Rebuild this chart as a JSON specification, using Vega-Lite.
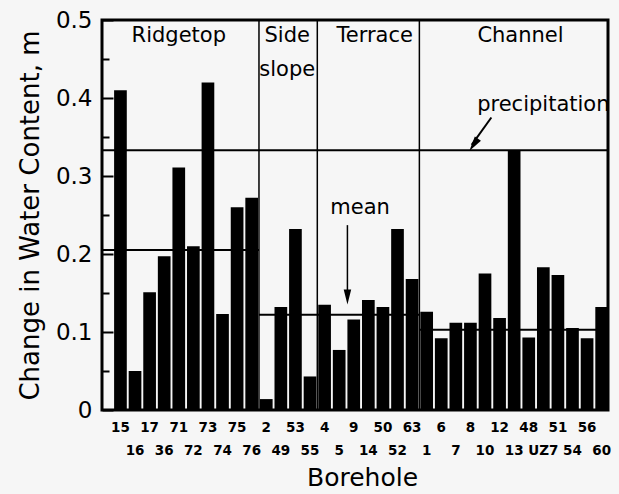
{
  "$schema": "https://vega.github.io/schema/vega-lite/v6.json",
  "width": 506,
  "height": 390,
  "autosize": {"type": "none"},
  "padding": {"left": 102, "top": 20, "right": 11, "bottom": 84},
  "background": "#f6f6f6",
  "config": {
    "view": {"stroke": "#000", "strokeWidth": 3},
    "font": "DejaVu Sans",
    "axis": {"domain": false, "labelColor": "#000", "titleColor": "#000", "tickColor": "#000"}
  },
  "resolve": {"axis": {"y": "independent"}},
  "datasets": {
    "bars": [
      {"borehole": "15", "setting": "Ridgetop", "change": 0.41},
      {"borehole": "16", "setting": "Ridgetop", "change": 0.05},
      {"borehole": "17", "setting": "Ridgetop", "change": 0.151},
      {"borehole": "36", "setting": "Ridgetop", "change": 0.197},
      {"borehole": "71", "setting": "Ridgetop", "change": 0.311},
      {"borehole": "72", "setting": "Ridgetop", "change": 0.21},
      {"borehole": "73", "setting": "Ridgetop", "change": 0.42},
      {"borehole": "74", "setting": "Ridgetop", "change": 0.123},
      {"borehole": "75", "setting": "Ridgetop", "change": 0.26},
      {"borehole": "76", "setting": "Ridgetop", "change": 0.272},
      {"borehole": "2", "setting": "Side slope", "change": 0.014},
      {"borehole": "49", "setting": "Side slope", "change": 0.132},
      {"borehole": "53", "setting": "Side slope", "change": 0.232},
      {"borehole": "55", "setting": "Side slope", "change": 0.043},
      {"borehole": "4", "setting": "Terrace", "change": 0.135},
      {"borehole": "5", "setting": "Terrace", "change": 0.077},
      {"borehole": "9", "setting": "Terrace", "change": 0.116},
      {"borehole": "14", "setting": "Terrace", "change": 0.141},
      {"borehole": "50", "setting": "Terrace", "change": 0.132},
      {"borehole": "52", "setting": "Terrace", "change": 0.232},
      {"borehole": "63", "setting": "Terrace", "change": 0.168},
      {"borehole": "1", "setting": "Channel", "change": 0.126},
      {"borehole": "6", "setting": "Channel", "change": 0.092},
      {"borehole": "7", "setting": "Channel", "change": 0.112},
      {"borehole": "8", "setting": "Channel", "change": 0.112},
      {"borehole": "10", "setting": "Channel", "change": 0.175},
      {"borehole": "12", "setting": "Channel", "change": 0.118},
      {"borehole": "13", "setting": "Channel", "change": 0.333},
      {"borehole": "48", "setting": "Channel", "change": 0.093},
      {"borehole": "UZ7", "setting": "Channel", "change": 0.183},
      {"borehole": "51", "setting": "Channel", "change": 0.173},
      {"borehole": "54", "setting": "Channel", "change": 0.105},
      {"borehole": "56", "setting": "Channel", "change": 0.092},
      {"borehole": "60", "setting": "Channel", "change": 0.132}
    ],
    "precip": [{"value": 0.333}],
    "means": [
      {"group": "Ridgetop", "borehole": "15", "to": "2", "value": 0.205},
      {"group": "Side slope and Terrace", "borehole": "2", "to": "1", "value": 0.122},
      {"group": "Channel", "borehole": "1", "to": "60", "value": 0.103}
    ],
    "dividers": [{"borehole": "2"}, {"borehole": "4"}, {"borehole": "1"}],
    "meanArrow": [{"borehole": "9", "value": 0.237, "value2": 0.15, "head": 0.145}],
    "precipArrow": [{"borehole": "8", "to": "10", "value": 0.34, "value2": 0.375, "head": 0.34}],
    "labelsCenter": [
      {"borehole": "71", "value": 0.479, "text": "Ridgetop"},
      {"borehole": "UZ7", "value": 0.391, "text": "precipitation"}
    ],
    "labelsEdge": [
      {"borehole": "49", "value": 0.479, "text": "Side"},
      {"borehole": "49", "value": 0.436, "text": "slope"},
      {"borehole": "14", "value": 0.479, "text": "Terrace"},
      {"borehole": "13", "value": 0.479, "text": "Channel"},
      {"borehole": "9", "value": 0.259, "text": "mean"}
    ]
  },
  "layer": [
    {
      "data": {"name": "bars"},
      "mark": {"type": "bar", "color": "#000"},
      "encoding": {
        "x": {
          "field": "borehole",
          "type": "nominal",
          "sort": null,
          "scale": {
            "type": "band",
            "domain": ["15","16","17","36","71","72","73","74","75","76","2","49","53","55","4","5","9","14","50","52","63","1","6","7","8","10","12","13","48","UZ7","51","54","56","60"],
            "paddingInner": 0.13,
            "paddingOuter": 0.415,
            "align": 1
          },
          "axis": {
            "title": "Borehole",
            "grid": false,
            "labelAngle": 0,
            "labelOverlap": false,
            "ticks": false,
            "labelFontWeight": "bold",
            "labelFontSize": 13.5,
            "labelPadding": 10,
            "labelLineHeight": 23.5,
            "labelBaseline": "top",
            "labelExpr": "indexof(['16','36','72','74','76','49','55','5','14','52','1','7','10','13','UZ7','54','60'], datum.label) >= 0 ? ['', datum.label] : datum.label",
            "titleFontSize": 25,
            "titleFontWeight": "normal",
            "titlePadding": 8,
            "titleX": 260
          }
        },
        "y": {
          "field": "change",
          "type": "quantitative",
          "scale": {"domain": [0, 0.5], "nice": false},
          "axis": {
            "title": "Change in Water Content, m",
            "values": [0, 0.05, 0.1, 0.15, 0.2, 0.25, 0.3, 0.35, 0.4, 0.45, 0.5],
            "labelExpr": "round(datum.value*100) % 10 != 0 ? '' : (datum.value == 0 ? '0' : format(datum.value, '.1f'))",
            "ticks": false,
            "grid": true,
            "gridColor": "#000",
            "gridOpacity": 1,
            "gridWidth": 2,
            "gridDash": {"condition": {"test": "round(datum.value*100) % 10 == 0", "value": [11, 2000]}, "value": [7, 2000]},
            "labelFontSize": 23,
            "labelPadding": 10,
            "titleFontSize": 26,
            "titleFontWeight": "normal",
            "titlePadding": 12
          }
        }
      }
    },
    {
      "data": {"name": "precip"},
      "mark": {"type": "rule", "color": "#000", "strokeWidth": 2},
      "encoding": {"y": {"field": "value", "type": "quantitative", "axis": null}}
    },
    {
      "data": {"name": "means"},
      "transform": [{"filter": "datum.group == 'Ridgetop'"}],
      "mark": {"type": "rule", "color": "#000", "strokeWidth": 2},
      "encoding": {
        "x": {"field": "borehole", "type": "nominal", "bandPosition": -0.95},
        "x2": {"field": "to", "bandPosition": -0.075},
        "y": {"field": "value", "type": "quantitative", "axis": null}
      }
    },
    {
      "data": {"name": "means"},
      "transform": [{"filter": "datum.group == 'Side slope and Terrace'"}],
      "mark": {"type": "rule", "color": "#000", "strokeWidth": 2},
      "encoding": {
        "x": {"field": "borehole", "type": "nominal", "bandPosition": -0.075},
        "x2": {"field": "to", "bandPosition": -0.075},
        "y": {"field": "value", "type": "quantitative", "axis": null}
      }
    },
    {
      "data": {"name": "means"},
      "transform": [{"filter": "datum.group == 'Channel'"}],
      "mark": {"type": "rule", "color": "#000", "strokeWidth": 2},
      "encoding": {
        "x": {"field": "borehole", "type": "nominal", "bandPosition": -0.075},
        "x2": {"field": "to", "bandPosition": 1},
        "y": {"field": "value", "type": "quantitative", "axis": null}
      }
    },
    {
      "data": {"name": "dividers"},
      "mark": {"type": "rule", "color": "#000", "strokeWidth": 1.5},
      "encoding": {
        "x": {"field": "borehole", "type": "nominal", "bandPosition": -0.075}
      }
    },
    {
      "data": {"name": "meanArrow"},
      "mark": {"type": "rule", "color": "#000", "strokeWidth": 1.5},
      "encoding": {
        "x": {"field": "borehole", "type": "nominal", "bandPosition": 0},
        "y": {"field": "value", "type": "quantitative", "axis": null},
        "y2": {"field": "value2"}
      }
    },
    {
      "data": {"name": "meanArrow"},
      "mark": {"type": "point", "filled": true, "color": "#000", "opacity": 1, "size": 225, "shape": "M0,1L-0.5,-1L0.5,-1Z"},
      "encoding": {
        "x": {"field": "borehole", "type": "nominal", "bandPosition": 0},
        "y": {"field": "head", "type": "quantitative", "axis": null}
      }
    },
    {
      "data": {"name": "precipArrow"},
      "mark": {"type": "rule", "color": "#000", "strokeWidth": 2},
      "encoding": {
        "x": {"field": "borehole", "type": "nominal", "bandPosition": 0.6},
        "x2": {"field": "to", "bandPosition": 1},
        "y": {"field": "value", "type": "quantitative", "axis": null},
        "y2": {"field": "value2"}
      }
    },
    {
      "data": {"name": "precipArrow"},
      "mark": {"type": "point", "filled": true, "color": "#000", "opacity": 1, "size": 225, "angle": 35, "shape": "M0,1L-0.5,-1L0.5,-1Z"},
      "encoding": {
        "x": {"field": "borehole", "type": "nominal", "bandPosition": 0.75},
        "y": {"field": "head", "type": "quantitative", "axis": null}
      }
    },
    {
      "data": {"name": "labelsCenter"},
      "mark": {"type": "text", "fontSize": 21, "color": "#000", "baseline": "middle", "align": "center"},
      "encoding": {
        "x": {"field": "borehole", "type": "nominal"},
        "y": {"field": "value", "type": "quantitative", "axis": null},
        "text": {"field": "text"}
      }
    },
    {
      "data": {"name": "labelsEdge"},
      "mark": {"type": "text", "fontSize": 21, "color": "#000", "baseline": "middle", "align": "center"},
      "encoding": {
        "x": {"field": "borehole", "type": "nominal", "bandPosition": 1},
        "y": {"field": "value", "type": "quantitative", "axis": null},
        "text": {"field": "text"}
      }
    }
  ]
}
